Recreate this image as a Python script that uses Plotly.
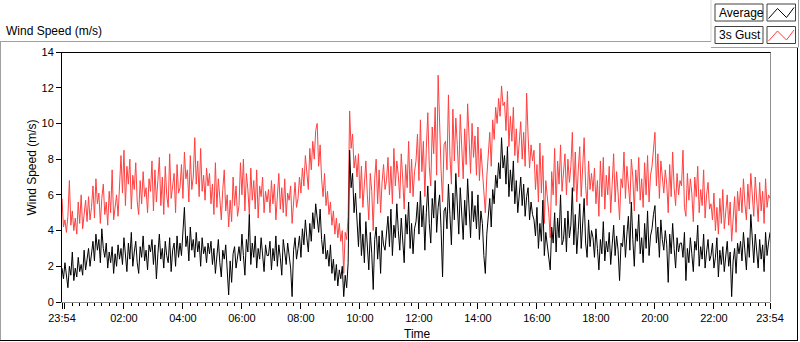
import plotly.graph_objects as go
import pandas as pd

# ---- data (3-minute readings, 23:54 -> 23:54 next day; one row per hour) ----
avg = [
    1.9, 1.3, 2.2, 1.6, 0.8, 2.0, 1.5, 2.8, 1.2, 1.9, 1.4, 2.5, 1.7, 2.1, 1.5, 2.9, 1.8, 2.4, 3.0, 2.0,
    2.6, 3.4, 2.3, 3.8, 2.9, 3.5, 2.2, 4.1, 3.0, 2.5, 3.3, 1.9, 2.8, 2.2, 3.1, 1.6, 2.7, 2.0, 3.2, 2.4,
    3.0, 2.1, 3.6, 2.6, 1.7, 3.3, 2.4, 3.9, 2.0, 2.8, 3.4, 2.2, 1.6, 3.1, 2.5, 3.7, 2.3, 2.9, 1.8, 3.2,
    2.8, 3.5, 2.1, 3.2, 1.3, 2.7, 3.8, 2.4, 3.0, 1.9, 3.4, 2.6, 2.2, 3.6, 1.7, 2.9, 3.3, 2.0, 3.7, 2.5,
    3.3, 2.6, 4.0, 5.3, 3.1, 3.7, 2.3, 4.2, 2.9, 3.5, 2.5, 3.9, 2.8, 3.4, 2.0, 3.6, 2.7, 3.1, 2.2, 3.3,
    2.7, 3.4, 2.1, 3.0, 1.6, 2.8, 3.5, 2.2, 1.4, 2.9, 2.4, 3.2, 1.8, 0.4, 2.3, 1.1, 2.7, 3.1, 1.9, 2.6,
    3.1, 2.3, 3.8, 2.6, 1.5, 3.5, 2.8, 4.9, 2.1, 3.3, 2.5, 3.7, 1.9, 3.0, 2.4, 3.6, 2.7, 1.7, 3.2, 2.6,
    2.6, 3.4, 1.8, 3.0, 2.3, 3.7, 2.0, 3.2, 2.5, 1.5, 3.5, 2.8, 2.1, 3.3, 2.6, 1.9, 0.3, 2.9, 3.6, 2.4,
    3.0, 3.7, 2.5, 4.1, 3.2, 4.6, 3.6, 2.8, 4.4, 3.4, 5.0, 4.1, 5.5, 4.7, 3.9, 5.2, 3.5, 2.7, 3.8, 2.4,
    2.9, 2.0, 3.2, 1.6, 2.4, 1.2, 2.1, 0.9, 1.8, 1.3, 2.0, 0.3, 1.5, 0.8, 2.2, 8.5, 6.4, 7.2, 5.0, 6.1,
    4.3, 3.1, 5.0, 2.6, 3.8, 2.2, 4.5, 3.4, 1.8, 3.9, 2.7, 0.7, 3.5, 4.2, 2.4, 3.7, 1.6, 4.0, 3.2, 2.9,
    3.7, 4.8, 3.1, 5.2, 2.6, 4.3, 3.6, 5.5, 4.0, 2.9, 4.7, 3.4, 2.2, 4.9, 3.8, 5.6, 3.0, 4.4, 2.7, 4.1,
    4.5, 5.6, 3.8, 6.2, 4.2, 5.4, 2.9, 5.0, 6.5, 4.4, 3.3, 5.8, 4.7, 6.8, 3.9, 5.3, 6.0, 4.1, 1.4, 5.1,
    5.3, 4.1, 6.6, 4.9, 3.2, 6.1, 4.6, 7.2, 5.2, 3.8, 6.4, 4.8, 3.5, 5.7, 4.3, 6.9, 5.0, 3.6, 6.2, 4.5,
    5.4, 4.1, 6.0, 3.5, 5.1, 4.4, 2.6, 1.6, 3.8, 4.9, 5.8, 4.2, 6.3, 5.5, 7.1, 6.4, 7.8, 6.9, 9.2, 7.5,
    8.2, 6.6, 8.7, 5.9, 7.4, 6.2, 7.9, 5.5, 6.8, 5.0, 6.3, 7.0, 5.4, 6.6, 4.8, 5.9, 6.4, 4.6, 5.6, 4.9,
    4.6, 3.7, 5.3, 3.0, 4.4, 3.4, 5.7, 2.6, 3.9, 3.1, 2.4, 1.8, 4.2, 3.3, 5.0, 2.8, 4.7, 3.6, 6.0, 3.2,
    3.5, 4.7, 2.8, 5.1, 3.6, 4.3, 6.4, 3.2, 4.9, 2.7, 4.0, 5.5, 3.0, 4.4, 5.8, 3.3, 2.5, 4.6, 3.1, 4.0,
    3.6, 2.5, 4.1, 3.0, 1.8, 3.5, 2.7, 4.5, 2.3, 3.4, 2.8, 3.9, 2.1, 3.2, 4.3, 2.6, 3.7, 2.9, 1.2, 3.3,
    3.1, 4.3, 2.5, 3.8, 4.8, 2.9, 5.6, 3.5, 2.0, 4.1, 3.4, 4.9, 2.7, 3.6, 2.2, 4.4, 3.0, 5.1, 2.6, 3.7,
    4.1, 4.9, 5.4, 3.3, 4.2, 2.5, 4.6, 3.5, 2.9, 4.0, 3.2, 1.1, 3.8, 2.7, 4.4, 3.0, 1.9, 3.6, 2.8, 3.3,
    3.3, 2.5, 3.9, 1.2, 3.0, 2.2, 3.6, 2.7, 1.7, 3.4, 2.9, 4.3, 2.0, 3.1, 2.4, 3.8, 1.9, 2.8, 3.5, 2.3,
    2.6, 3.3, 1.9, 2.5, 3.6, 1.4, 2.9, 2.1, 3.1, 1.7, 2.6, 3.4, 2.0, 2.8, 0.3, 2.3, 3.0, 1.6, 3.3, 2.7,
    3.4, 2.3, 3.9, 2.7, 1.8, 3.6, 2.5, 4.9, 3.1, 2.2, 3.8, 2.6, 1.9, 3.5, 2.4, 3.2, 1.7, 3.9, 2.6, 3.3,
    3.9,
]
gust = [
    5.8, 4.2, 4.6, 3.9, 4.8, 6.8, 4.3, 5.1, 4.0, 4.7, 3.8, 5.6, 4.4, 6.0, 4.1, 4.9, 5.7, 4.5, 5.9, 4.6,
    5.3, 6.5, 4.7, 6.9, 5.5, 6.1, 4.4, 5.8, 6.6, 4.9, 5.6, 4.3, 6.2, 5.0, 7.4, 4.6, 5.4, 6.0, 4.8, 6.8,
    8.2, 6.1, 8.5, 5.4, 7.6, 6.6, 8.0, 5.2, 7.1, 6.3, 7.8, 5.6, 4.9, 6.8, 5.5, 7.3, 5.9, 6.4, 5.0, 6.9,
    6.2, 7.9, 5.1, 7.4, 5.6, 6.8, 8.1, 5.4, 7.0, 4.9, 7.6, 6.0, 5.3, 8.3, 5.8, 6.5, 7.2, 5.0, 7.7, 6.1,
    6.4, 7.7, 5.8, 8.4, 6.9, 7.4, 5.6, 8.2, 6.3, 7.0, 9.2, 6.6, 7.9, 5.9, 8.6, 6.2, 7.1, 5.7, 7.5, 6.5,
    7.2, 5.5, 6.6, 4.9, 7.8, 5.3, 6.9, 5.8, 4.6, 6.3, 7.4, 5.1, 6.0, 4.2, 5.7, 4.5, 7.0, 5.4, 6.5, 4.8,
    5.4, 7.8, 6.0, 8.0, 5.1, 7.2, 6.3, 4.9, 7.5, 5.7, 6.8, 5.2, 7.4, 4.7, 6.5, 5.9, 7.0, 5.0, 6.2, 5.6,
    6.3, 5.0, 6.8, 5.5, 6.6, 4.6, 6.0, 7.2, 5.2, 6.4, 5.0, 6.9, 4.8, 6.1, 5.7, 6.5, 4.4, 5.9, 6.7, 5.3,
    5.8, 7.0, 6.1, 7.5, 6.5, 8.2, 7.1, 6.3, 8.6, 7.4, 9.0, 8.0, 9.6, 10.0, 7.6, 8.8, 6.9, 5.9, 7.2, 5.4,
    6.2, 4.9, 5.6, 4.3, 5.1, 3.8, 4.7, 3.6, 4.4, 3.4, 4.0, 1.6, 3.9, 3.5, 4.8, 10.7, 8.6, 9.4, 7.5, 8.2,
    7.0, 8.3, 5.8, 7.6, 5.3, 6.6, 7.9, 6.0, 4.6, 7.2, 6.2, 4.0, 6.9, 8.0, 5.5, 7.4, 5.0, 6.7, 7.7, 6.3,
    6.8, 8.1, 6.0, 7.6, 5.5, 8.6, 6.5, 7.9, 7.1, 5.8, 8.3, 6.9, 5.2, 7.7, 6.4, 9.0, 6.1, 8.0, 5.9, 7.3,
    7.9, 9.4, 6.8, 10.2, 7.3, 9.0, 5.9, 8.6, 10.6, 7.6, 6.5, 9.8, 8.3, 10.9, 7.1, 12.7, 9.5, 7.4, 5.6, 8.8,
    9.0, 7.4, 11.6, 8.2, 6.6, 10.8, 7.9, 10.3, 8.8, 7.0, 10.5, 8.4, 6.9, 9.7, 7.7, 11.1, 8.5, 7.2, 10.0, 8.1,
    9.3, 7.1, 9.8, 6.8, 8.6, 7.5, 6.1, 5.0, 7.0, 8.4, 9.5, 7.6, 10.2, 9.1, 10.9, 10.0, 11.4, 10.4, 12.1, 11.0,
    11.2, 9.6, 11.8, 8.7, 10.4, 9.0, 10.9, 8.2, 9.7, 7.8, 9.2, 10.1, 8.0, 9.5, 7.6, 11.7, 9.3, 7.5, 8.8, 7.9,
    8.5, 6.3, 7.7, 5.6, 8.9, 6.1, 8.2, 4.4, 6.8, 5.9, 5.0, 3.6, 7.3, 6.0, 8.6, 5.4, 7.9, 6.6, 8.8, 6.2,
    7.1, 8.3, 6.0, 8.0, 6.7, 7.6, 9.5, 6.2, 8.4, 5.6, 7.4, 8.7, 5.9, 7.8, 9.2, 6.5, 5.4, 7.9, 6.3, 7.2,
    6.2, 7.5, 5.5, 6.8, 4.8, 7.9, 5.9, 8.1, 5.2, 7.1, 6.0, 7.6, 5.0, 6.6, 8.3, 5.6, 7.3, 6.1, 4.6, 6.9,
    6.4, 8.4, 5.8, 7.6, 6.7, 5.5, 8.0, 7.0, 5.1, 7.4, 6.2, 8.1, 5.7, 6.9, 5.3, 7.8, 6.0, 8.2, 5.6, 7.1,
    7.6, 8.8, 9.5, 6.5, 8.3, 5.8, 7.9, 7.0, 6.1, 7.4, 6.6, 5.0, 7.7, 5.9, 8.4, 6.4, 5.4, 7.2, 6.0, 6.8,
    6.5, 8.5, 5.3, 4.8, 7.2, 5.7, 6.9, 6.1, 4.5, 7.0, 5.9, 7.6, 5.0, 6.3, 5.4, 7.4, 4.7, 6.0, 6.7, 5.2,
    5.5, 4.6, 6.1, 4.0, 5.3, 3.8, 5.8, 4.4, 6.3, 4.1, 5.0, 6.0, 4.3, 5.6, 3.4, 4.9, 5.9, 3.9, 6.2, 5.1,
    6.4, 5.0, 6.9, 5.5, 4.6, 6.6, 5.2, 7.2, 6.0, 4.8, 7.0, 5.4, 4.5, 6.7, 5.1, 6.2, 4.4, 6.9, 5.3, 6.0,
    5.8,
]
start_time = "2024-01-01 23:54"
end_time = "2024-01-02 23:54"
tick_times = ["2024-01-01 23:54", "2024-01-02 00:00", "2024-01-02 02:00",
              "2024-01-02 04:00", "2024-01-02 06:00", "2024-01-02 08:00",
              "2024-01-02 10:00", "2024-01-02 12:00", "2024-01-02 14:00",
              "2024-01-02 16:00", "2024-01-02 18:00", "2024-01-02 20:00",
              "2024-01-02 22:00", "2024-01-02 23:54"]
tick_labels = ["23:54", "", "02:00", "04:00", "06:00", "08:00", "10:00",
               "12:00", "14:00", "16:00", "18:00", "20:00", "22:00", "23:54"]
y_ticks = [0, 2, 4, 6, 8, 10, 12, 14]

times = pd.date_range(start_time, periods=len(avg), freq="3min")

# ---- geometry helpers (pixel -> paper) ----
W, H = 800, 342
L, R, T, B = 62, 30, 52, 40
PW, PH = W - L - R, H - T - B


def px(x):
    return (x - L) / PW


def py(y):
    return (H - B - y) / PH


FONT = "Liberation Sans, Arial, sans-serif"

fig = go.Figure()
fig.add_trace(go.Scatter(x=times, y=gust, mode="lines", name="3s Gust",
                         line=dict(color="#FF4040", width=1)))
fig.add_trace(go.Scatter(x=times, y=avg, mode="lines", name="Average",
                         line=dict(color="#000000", width=1)))

shapes = []


def seg(x0, y0, x1, y1, color, width=1):
    shapes.append(dict(type="line", xref="paper", yref="paper",
                       x0=px(x0), y0=py(y0), x1=px(x1), y1=py(y1),
                       line=dict(color=color, width=width), layer="above"))


# outer panel frame
seg(0, 41.5, 711, 41.5, "#a0a0a0")
seg(0.5, 41.5, 0.5, 341, "#a0a0a0")
seg(0, 340.5, 798, 340.5, "#000000")
seg(797.5, 47, 797.5, 341, "#000000")
# legend panel frame
seg(711, 0, 711, 41.5, "#d8d8d8")
seg(711, 47.5, 798, 47.5, "#a0a0a0")
seg(798.5, 0, 798.5, 47.5, "#a0a0a0")
# plot area frame (top black, right gray)
seg(62, 52.5, 771, 52.5, "#000000")
seg(770.5, 52.5, 770.5, 302, "#909090")

# legend boxes
for y0 in (4, 26.5):
    for (x0, x1) in ((715, 763), (767, 795.5)):
        shapes.append(dict(type="rect", xref="paper", yref="paper",
                           x0=px(x0), x1=px(x1), y0=py(y0), y1=py(y0 + 17),
                           line=dict(color="#404040", width=1),
                           fillcolor="white", layer="above"))
for y0, col in ((4, "#000000"), (26.5, "#FF4040")):
    pts = [(768.5, y0 + 14.5), (777.5, y0 + 4.5), (786.5, y0 + 13.5), (794, y0 + 3.5)]
    path = "M " + " L ".join(f"{px(a)},{py(b)}" for a, b in pts)
    shapes.append(dict(type="path", xref="paper", yref="paper", path=path,
                       line=dict(color=col, width=1), layer="above"))

annotations = [
    dict(text="Wind Speed (m/s)", x=px(4), y=py(31), xanchor="left", yanchor="middle",
         showarrow=False, font=dict(size=12, color="#000000", family=FONT)),
    dict(text="Wind Speed (m/s)", x=px(31), y=py(167.5), xanchor="center", yanchor="middle",
         textangle=-90, showarrow=False, font=dict(size=12, color="#000000", family=FONT)),
    dict(text="Time", x=px(417.5), y=py(334), xanchor="center", yanchor="middle",
         showarrow=False, font=dict(size=12, color="#000000", family=FONT)),
    dict(text="Average", x=px(716.5), y=py(13), xanchor="left", yanchor="middle",
         showarrow=False, font=dict(size=12, color="#000000", family=FONT)),
    dict(text="3s Gust", x=px(716.5), y=py(35.5), xanchor="left", yanchor="middle",
         showarrow=False, font=dict(size=12, color="#000000", family=FONT)),
]
for a in annotations:
    a["xref"] = "paper"
    a["yref"] = "paper"

fig.update_layout(
    width=W, height=H, autosize=False,
    margin=dict(l=L, r=R, t=T, b=B, pad=0),
    paper_bgcolor="white", plot_bgcolor="white",
    showlegend=False, hovermode=False,
    font=dict(family=FONT, size=11, color="#000000"),
    shapes=shapes, annotations=annotations,
    xaxis=dict(type="date", range=[start_time, end_time],
               tickmode="array", tickvals=tick_times, ticktext=tick_labels,
               showgrid=False, zeroline=False, showline=True,
               linecolor="#909090", linewidth=1,
               ticks="outside", ticklen=6, tickcolor="#000000", tickwidth=1,
               tickfont=dict(size=11, family=FONT, color="#000000"),
               minor=dict(tickmode="linear", dtick=15 * 60 * 1000,
                          tick0="2024-01-02 00:00", ticks="outside", ticklen=3,
                          tickcolor="#000000", tickwidth=1, showgrid=False)),
    yaxis=dict(range=[0, 14], tickmode="array", tickvals=y_ticks,
               showgrid=False, zeroline=False, showline=True,
               linecolor="#000000", linewidth=1,
               ticks="outside", ticklen=5, tickcolor="#000000", tickwidth=1,
               tickfont=dict(size=11, family=FONT, color="#000000")),
)

fig.write_html("out.html", config={"displayModeBar": False},
               post_script="document.body.style.margin='0';document.body.style.padding='0';")
